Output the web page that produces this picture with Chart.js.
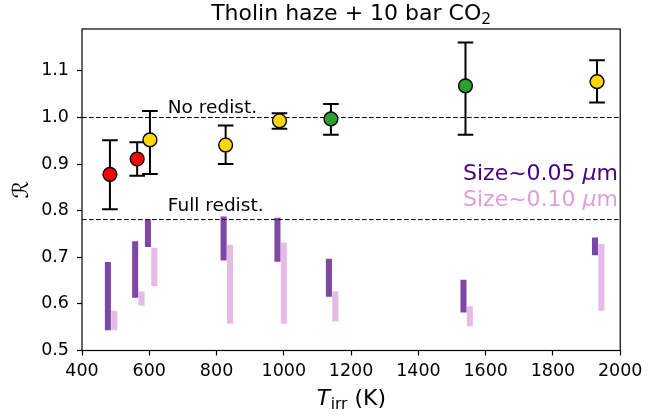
<!DOCTYPE html>
<html><head><meta charset="utf-8">
<script src="https://cdn.jsdelivr.net/npm/chart.js@4/dist/chart.umd.min.js"></script>
<style>html,body{margin:0;padding:0;background:#fff}#wrap{width:648px;height:416px}</style>
</head><body><div id="wrap"><canvas id="c" width="648" height="416"></canvas></div>
<script>
// ---- data ----
const temps     = [483, 564, 602, 827, 987, 1140, 1540, 1931];
const ratio     = [0.878, 0.911, 0.952, 0.941, 0.993, 0.997, 1.068, 1.077];
const ratioLow  = [0.803, 0.875, 0.879, 0.900, 0.976, 0.963, 0.963, 1.032];
const ratioHigh = [0.951, 0.947, 1.014, 0.983, 1.009, 1.029, 1.161, 1.123];
const pointGroup = ['red', 'red', 'yellow', 'yellow', 'yellow', 'green', 'green', 'yellow'];
const size005Low  = [0.544, 0.614, 0.723, 0.694, 0.691, 0.616, 0.582, 0.705];
const size005High = [0.689, 0.734, 0.781, 0.787, 0.784, 0.696, 0.651, 0.742];
const size010Low  = [0.544, 0.597, 0.639, 0.558, 0.558, 0.563, 0.553, 0.586];
const size010High = [0.584, 0.626, 0.720, 0.726, 0.731, 0.626, 0.594, 0.728];
const noRedist = 1.0;
const fullRedist = 0.781;
const xTicks = [400, 600, 800, 1000, 1200, 1400, 1600, 1800, 2000];
const yTicks = [0.5, 0.6, 0.7, 0.8, 0.9, 1.0, 1.1];
const titleText = 'Tholin haze + 10 bar CO';
const titleSub = '2';
const legendLabels = ['Size~0.05 ', 'Size~0.10 '];

// ---- styles ----
const FONT = 'DejaVu Sans';
const groupColor = {red: '#ff0000', yellow: '#ffd700', green: '#2ca02c'};
const darkOffset = -6, lightOffset = 13; // K, bar placement beside point

Chart.defaults.font.family = FONT;
Chart.defaults.font.size = 17.5;
Chart.defaults.color = '#000';

const overlay = {
  id: 'overlay',
  beforeDatasetDraw(chart, args) {
    if (chart.data.datasets[args.index].label !== 'R') return;
    const ctx = chart.ctx, xs = chart.scales.x, ys = chart.scales.y;
    ctx.save();
    ctx.strokeStyle = '#000';
    ctx.lineWidth = 2;
    for (let i = 0; i < temps.length; i++) {
      const px = xs.getPixelForValue(temps[i]);
      const y1 = ys.getPixelForValue(ratioLow[i]);
      const y2 = ys.getPixelForValue(ratioHigh[i]);
      ctx.beginPath();
      ctx.moveTo(px, y1); ctx.lineTo(px, y2);
      ctx.moveTo(px - 7.8, y1); ctx.lineTo(px + 7.8, y1);
      ctx.moveTo(px - 7.8, y2); ctx.lineTo(px + 7.8, y2);
      ctx.stroke();
    }
    ctx.restore();
  },
  afterDraw(chart) {
    const ctx = chart.ctx, a = chart.chartArea, xs = chart.scales.x, ys = chart.scales.y;
    ctx.save();
    // frame
    ctx.strokeStyle = '#000';
    ctx.lineWidth = 1.2;
    ctx.strokeRect(a.left, a.top, a.right - a.left, a.bottom - a.top);
    ctx.fillStyle = '#000';
    ctx.textBaseline = 'alphabetic';
    // title
    const cx = (a.left + a.right) / 2;
    ctx.font = '22px ' + FONT;
    const w1 = ctx.measureText(titleText).width;
    ctx.font = '15.5px ' + FONT;
    const w2 = ctx.measureText(titleSub).width;
    let x0 = cx - (w1 + w2) / 2;
    ctx.textAlign = 'left';
    ctx.font = '22px ' + FONT;
    ctx.fillText(titleText, x0, 20);
    ctx.font = '15.5px ' + FONT;
    ctx.fillText(titleSub, x0 + w1, 24);
    // x label
    ctx.font = 'italic 22px ' + FONT;
    const wT = ctx.measureText('T').width;
    ctx.font = '15.5px ' + FONT;
    const wI = ctx.measureText('irr').width;
    ctx.font = '22px ' + FONT;
    const wK = ctx.measureText(' (K)').width;
    x0 = cx - (wT + wI + wK) / 2;
    ctx.font = 'italic 22px ' + FONT;
    ctx.fillText('T', x0, 405);
    ctx.font = '15.5px ' + FONT;
    ctx.fillText('irr', x0 + wT + 0.5, 409);
    ctx.font = '22px ' + FONT;
    ctx.fillText(' (K)', x0 + wT + wI + 0.5, 405);
    // y label
    ctx.save();
    ctx.translate(22, (a.top + a.bottom) / 2);
    ctx.rotate(-Math.PI / 2);
    ctx.textAlign = 'center';
    ctx.textBaseline = 'middle';
    ctx.font = '22px ' + FONT;
    ctx.fillText('\u211B', 0, 0);
    ctx.restore();
    // annotations
    ctx.font = '18.5px ' + FONT;
    ctx.textAlign = 'left';
    ctx.fillText('No redist.', xs.getPixelForValue(655), ys.getPixelForValue(1.01));
    ctx.fillText('Full redist.', xs.getPixelForValue(655), ys.getPixelForValue(0.8));
    // legend texts
    const legColors = ['#4b0082', '#dda0dd'];
    const legBase = [180, 206];
    for (let k = 0; k < 2; k++) {
      ctx.fillStyle = legColors[k];
      ctx.font = '22px ' + FONT;
      const wa = ctx.measureText(legendLabels[k]).width;
      const wm = ctx.measureText('m').width;
      ctx.font = 'italic 22px ' + FONT;
      const wmu = ctx.measureText('\u03bc').width;
      let xr = 618 - (wa + wmu + wm);
      ctx.font = '22px ' + FONT;
      ctx.fillText(legendLabels[k], xr, legBase[k]);
      ctx.font = 'italic 22px ' + FONT;
      ctx.fillText('\u03bc', xr + wa, legBase[k]);
      ctx.font = '22px ' + FONT;
      ctx.fillText('m', xr + wa + wmu, legBase[k]);
    }
    ctx.restore();
  }
};

const pts = temps.map((t, i) => ({x: t, y: ratio[i]}));
const darkBars = temps.map((t, i) => ({x: t + darkOffset, y: [size005Low[i], size005High[i]]}));
const lightBars = temps.map((t, i) => ({x: t + lightOffset, y: [size010Low[i], size010High[i]]}));

new Chart(document.getElementById('c'), {
  type: 'scatter',
  data: {
    datasets: [
      {label: 'R', type: 'scatter', data: pts, order: 0,
       pointRadius: 6.9, pointHoverRadius: 6.9, pointBorderWidth: 1.4, pointBorderColor: '#000',
       pointBackgroundColor: pointGroup.map(g => groupColor[g])},
      {label: 'Size 0.05', type: 'bar', data: darkBars, order: 1, grouped: false,
       barThickness: 5.4, backgroundColor: 'rgba(75,0,130,0.72)', borderWidth: 0},
      {label: 'Size 0.10', type: 'bar', data: lightBars, order: 1, grouped: false,
       barThickness: 5.4, backgroundColor: 'rgba(221,160,221,0.72)', borderWidth: 0},
      {label: 'no', type: 'line', data: [{x: 400, y: noRedist}, {x: 2000, y: noRedist}], order: 2,
       borderColor: '#000', borderWidth: 1, borderDash: [4.7, 2.3], pointRadius: 0, fill: false},
      {label: 'full', type: 'line', data: [{x: 400, y: fullRedist}, {x: 2000, y: fullRedist}], order: 2,
       borderColor: '#000', borderWidth: 1, borderDash: [4.7, 2.3], pointRadius: 0, fill: false}
    ]
  },
  options: {
    responsive: false,
    animation: false,
    layout: {padding: {top: 29, right: 24, left: 0, bottom: 0}},
    plugins: {legend: {display: false}, tooltip: {enabled: false}, title: {display: false}},
    scales: {
      x: {type: 'linear', min: 400, max: 2000, offset: false,
          afterFit: s => { s.height = 65.5; },
          afterBuildTicks: s => { s.ticks = xTicks.map(v => ({value: v})); },
          border: {display: false},
          grid: {display: true, drawOnChartArea: false, drawTicks: true, tickLength: 5, tickColor: '#000', tickWidth: 1.2, offset: false},
          ticks: {padding: 5.5, maxRotation: 0, autoSkip: false, callback: v => String(v), font: {size: 17.5}}},
      y: {type: 'linear', min: 0.5, max: 1.19,
          afterFit: s => { s.width = 82; },
          afterBuildTicks: s => { s.ticks = yTicks.map(v => ({value: v})); },
          border: {display: false},
          grid: {display: true, drawOnChartArea: false, drawTicks: true, tickLength: 5, tickColor: '#000', tickWidth: 1.2},
          ticks: {padding: 8, autoSkip: false, callback: v => Number(v).toFixed(1), font: {size: 17.5}}}
    }
  },
  plugins: [overlay]
});
</script>
</body></html>
